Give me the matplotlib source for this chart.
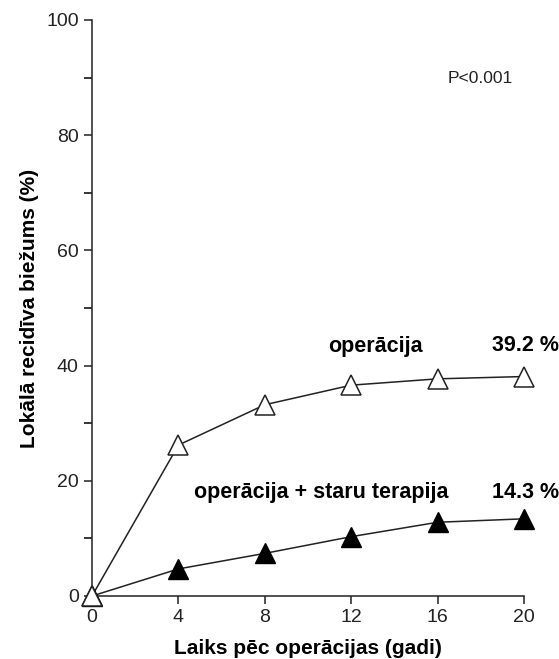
import matplotlib.pyplot as plt

plt.rcParams['font.family'] = ['Liberation Sans', 'DejaVu Sans']

years = [0, 4, 8, 12, 16, 20]
operacija = [0, 26.2, 33.2, 36.6, 37.7, 38.1]
op_staru = [0, 4.7, 7.4, 10.3, 12.8, 13.4]

fig = plt.figure(figsize=(5.59, 6.59), dpi=100)
ax = fig.add_axes([0.1646, 0.0956, 0.7728, 0.8741])

ax.plot(years, operacija, color='#222222', lw=1.1, marker='^', ms=14,
        mfc='white', mec='#222222', mew=1.1, clip_on=False, zorder=3)
ax.plot(years, op_staru, color='#222222', lw=1.1, marker='^', ms=14,
        mfc='black', mec='black', clip_on=False, zorder=3)
# starting point drawn as open triangle on top
ax.plot([0], [0], marker='^', ms=14, mfc='white', mec='#222222', mew=1.1,
        clip_on=False, zorder=4)

ax.set_xlim(0, 20)
ax.set_ylim(0, 100)
ax.set_xticks(years)
ax.set_yticks(range(0, 101, 20))
ax.set_yticks(range(10, 100, 20), minor=True)
ax.tick_params(axis='both', labelsize=14, colors='#222222', length=6, width=1.1)
ax.tick_params(axis='y', which='minor', length=6, width=1.1)
for s in ['top', 'right']:
    ax.spines[s].set_visible(False)
for s in ['left', 'bottom']:
    ax.spines[s].set_linewidth(1.1)
    ax.spines[s].set_color('#222222')

ax.set_xlabel('Laiks pēc operācijas (gadi)', fontsize=15, fontweight='bold', labelpad=9)
ax.set_ylabel('Lokālā recidīva biežums (%)', fontsize=15, fontweight='bold', labelpad=5)

ax.text(13.1, 43.3, 'operācija', fontsize=15.5, fontweight='bold', ha='center', va='center')
ax.text(20.05, 43.5, '39.2 %', fontsize=15.5, fontweight='bold', ha='center', va='center')
ax.text(10.6, 18.0, 'operācija + staru terapija', fontsize=15.5, fontweight='bold', ha='center', va='center')
ax.text(20.05, 17.9, '14.3 %', fontsize=15.5, fontweight='bold', ha='center', va='center')
ax.text(17.96, 89.9, 'P<0.001', fontsize=12.6, ha='center', va='center', color='#222222')

plt.savefig('out.png', dpi=100)
